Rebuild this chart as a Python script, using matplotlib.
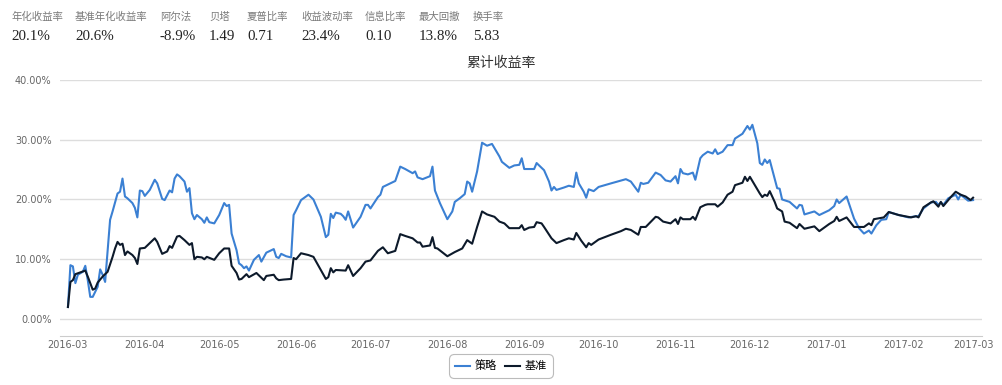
import pandas as pd
import numpy as np
import matplotlib
matplotlib.use('Agg')
import matplotlib.pyplot as plt
import matplotlib.dates as mdates
from matplotlib.ticker import FuncFormatter

# header stats
stat_names = ['年化收益率', '基准年化收益率', '阿尔法', '贝塔', '夏普比率',
              '收益波动率', '信息比率', '最大回撤', '换手率']
stat_values = ['20.1%', '20.6%', '-8.9%', '1.49', '0.71', '23.4%', '0.10', '13.8%', '5.83']

# cumulative return (%), days counted from 2016-03-01
start = pd.Timestamp('2016-03-01')
strat_days = [0, 1, 2, 3, 4, 6, 7, 8, 9, 10, 12, 13, 14, 15, 17, 18, 20, 21, 22, 23,
              24, 26, 27, 28, 29, 30, 31, 33, 35, 36, 38, 39, 41, 42, 43, 44, 45, 47, 48, 49,
              50, 51, 52, 54, 55, 56, 57, 59, 61, 63, 64, 65, 66, 68, 69, 70, 71, 72, 73, 75,
              77, 78, 80, 83, 84, 85, 86, 88, 90, 91, 92, 94, 97, 99, 102, 104, 105, 106, 107, 108,
              110, 111, 112, 113, 115, 118, 120, 121, 122, 125, 126, 127, 129, 132, 134, 136, 139, 140, 141, 143,
              146, 147, 148, 150, 153, 155, 156, 158, 160, 161, 162, 163, 165, 167, 169, 171, 174, 175, 178, 180,
              182, 183, 184, 188, 189, 192, 194, 195, 196, 197, 200, 202, 204, 205, 206, 208, 209, 210, 212, 214,
              219, 225, 227, 230, 231, 232, 234, 237, 239, 241, 243, 245, 246, 247, 248, 250, 252, 253, 255, 256,
              258, 260, 261, 262, 264, 266, 268, 269, 272, 274, 275, 276, 278, 279, 280, 281, 282, 283, 286, 287,
              288, 291, 294, 295, 296, 297, 301, 303, 307, 309, 310, 311, 314, 317, 319, 321, 323, 324, 326, 328,
              330, 331, 335, 339, 342, 343, 345, 348, 350, 351, 352, 353, 355, 358, 359, 360, 363, 365]
strat_vals = [2.0, 9.0, 8.8, 6.0, 7.4, 7.9, 8.9, 6.5, 3.7, 3.7, 5.4, 8.3, 7.4, 6.2, 16.6, 18.0, 21.0, 21.3, 23.5, 20.5,
              20.2, 19.4, 18.6, 17.0, 21.5, 21.4, 20.6, 21.6, 23.3, 22.7, 20.1, 19.9, 21.5, 21.2, 23.5, 24.2, 23.9, 23.0, 21.3, 21.9,
              17.7, 16.7, 17.4, 16.7, 16.1, 17.0, 16.2, 16.0, 17.4, 19.4, 18.9, 19.1, 14.3, 11.5, 9.3, 9.0, 8.5, 8.8, 8.1, 9.9,
              10.7, 9.6, 11.1, 11.7, 10.4, 10.2, 10.9, 10.5, 10.3, 17.4, 18.2, 19.9, 20.8, 20.0, 17.1, 13.7, 14.1, 17.6, 16.9, 17.8,
              17.6, 17.2, 16.6, 18.0, 15.3, 17.1, 19.1, 19.1, 18.5, 20.4, 20.8, 22.1, 22.5, 23.1, 25.5, 25.1, 24.4, 24.7, 23.7, 23.4,
              23.9, 25.5, 21.5, 19.4, 16.7, 18.0, 19.6, 20.2, 20.9, 23.0, 22.7, 21.3, 24.7, 29.5, 29.0, 29.3, 27.2, 26.3, 25.3, 25.7,
              25.8, 26.9, 25.1, 25.1, 26.1, 24.9, 23.0, 21.5, 22.1, 21.6, 22.0, 22.3, 22.1, 24.5, 22.7, 21.3, 20.3, 21.7, 21.4, 22.1,
              22.7, 23.4, 23.0, 21.3, 22.8, 22.6, 22.8, 24.5, 24.1, 23.2, 23.0, 23.9, 22.7, 25.1, 24.4, 24.2, 24.5, 23.3, 26.9, 27.4,
              28.0, 27.7, 28.4, 27.6, 28.0, 29.1, 29.1, 30.2, 31.0, 32.3, 31.7, 32.5, 29.4, 26.1, 25.8, 26.7, 26.1, 26.6, 21.9, 21.8,
              20.0, 19.6, 18.5, 19.1, 19.0, 17.5, 18.0, 17.4, 18.2, 18.9, 20.0, 19.4, 20.5, 16.8, 15.2, 14.3, 14.8, 14.3, 15.7, 16.6,
              16.7, 17.9, 17.4, 17.0, 17.2, 17.2, 18.5, 19.5, 19.6, 19.1, 19.5, 19.1, 20.2, 20.8, 20.0, 20.8, 19.8, 19.9]

bench_days = [0, 1, 2, 3, 5, 7, 8, 10, 11, 12, 14, 16, 18, 19, 20, 21, 22, 23, 24, 26,
              27, 28, 29, 31, 33, 35, 36, 38, 40, 41, 42, 44, 45, 47, 49, 50, 51, 52, 54, 55,
              56, 59, 61, 63, 65, 66, 68, 69, 70, 72, 73, 76, 79, 80, 83, 84, 85, 87, 90, 91,
              92, 94, 97, 99, 102, 104, 105, 106, 107, 108, 112, 113, 115, 118, 120, 122, 125, 127, 129, 132,
              134, 136, 139, 141, 142, 143, 146, 147, 148, 149, 153, 156, 159, 161, 163, 165, 167, 169, 172, 174,
              176, 178, 182, 183, 184, 186, 188, 189, 191, 192, 195, 197, 200, 202, 204, 205, 207, 209, 210, 211,
              214, 219, 223, 225, 227, 230, 231, 233, 237, 238, 240, 243, 245, 246, 247, 248, 251, 252, 253, 255,
              257, 258, 261, 262, 264, 266, 268, 269, 272, 273, 274, 275, 277, 279, 280, 281, 282, 283, 285, 286,
              288, 289, 291, 294, 295, 297, 301, 303, 307, 309, 310, 311, 314, 317, 321, 323, 324, 325, 329, 331,
              335, 340, 342, 343, 345, 348, 349, 351, 352, 353, 356, 358, 360, 362, 364, 365]
bench_vals = [2.0, 6.2, 6.5, 7.5, 7.8, 8.1, 7.1, 4.9, 5.1, 6.1, 7.1, 7.9, 10.4, 11.8, 12.9, 12.4, 12.6, 10.7, 11.3, 10.7,
              10.2, 9.2, 11.8, 11.9, 12.7, 13.5, 12.9, 10.9, 11.3, 12.2, 11.9, 13.8, 13.9, 13.2, 12.4, 12.7, 10.0, 10.4, 10.3, 10.0,
              10.4, 9.9, 11.0, 11.8, 11.8, 8.9, 7.7, 6.6, 6.7, 7.5, 7.0, 7.7, 6.5, 7.2, 7.4, 6.8, 6.5, 6.6, 6.7, 10.2,
              10.0, 11.0, 10.7, 10.4, 8.2, 6.7, 7.0, 8.5, 7.8, 8.2, 8.1, 9.0, 7.2, 8.5, 9.6, 9.8, 11.4, 12.0, 11.0, 11.4,
              14.2, 13.9, 13.5, 12.8, 12.8, 12.1, 12.3, 13.7, 11.9, 11.8, 10.5, 11.2, 11.8, 13.2, 12.6, 15.4, 18.0, 17.5, 17.1, 16.3,
              16.0, 15.2, 15.2, 15.7, 14.9, 15.3, 15.4, 16.2, 16.0, 15.4, 13.5, 12.7, 13.2, 13.5, 13.3, 14.4, 13.1, 12.0, 12.7, 12.4,
              13.3, 14.1, 14.7, 15.1, 14.9, 14.1, 15.4, 15.4, 17.1, 17.0, 16.3, 16.0, 16.7, 15.9, 17.0, 16.7, 16.7, 17.1, 16.6, 18.7,
              19.1, 19.2, 19.2, 18.8, 19.5, 20.8, 21.3, 22.4, 22.8, 23.8, 23.1, 23.8, 22.4, 21.0, 20.4, 20.8, 20.6, 21.4, 19.6, 18.5,
              18.0, 16.3, 16.1, 15.2, 15.9, 15.1, 15.5, 14.7, 15.9, 16.4, 17.1, 16.4, 17.0, 15.4, 15.4, 16.0, 15.7, 16.7, 17.0, 17.9,
              17.4, 17.0, 17.2, 17.0, 18.7, 19.5, 19.7, 18.8, 19.6, 18.9, 20.4, 21.3, 20.8, 20.5, 19.9, 20.3]

strat_dates = start + pd.to_timedelta(strat_days, unit='D')
bench_dates = start + pd.to_timedelta(bench_days, unit='D')

BLUE = '#3b80d3'
DARK = '#0d1a2b'
cjk = ['Noto Sans CJK SC', 'DejaVu Sans']

fig = plt.figure(figsize=(10.02, 3.85), dpi=100)

# header row
stat_x = [11, 75, 160, 209, 247, 301, 365, 419, 473]
for x, name, val in zip(stat_x, stat_names, stat_values):
    fig.text(x / 1002, 1 - 17 / 385, name, family=cjk, fontsize=7.5, color='#7a7a7a',
             ha='left', va='center')
    fig.text(x / 1002, 1 - 36 / 385, val, family=['Liberation Serif'], fontsize=10.8,
             color='#222222', ha='left', va='center')

fig.text(501 / 1002, 1 - 63 / 385, '累计收益率', family=cjk, fontsize=10,
         color='#333333', ha='center', va='center')

ax = fig.add_axes([60 / 1002, 49 / 385, 922 / 1002, 256 / 385])
ax.plot(strat_dates, strat_vals, color=BLUE, lw=1.5, label='策略')
ax.plot(bench_dates, bench_vals, color=DARK, lw=1.5, label='基准')

ax.set_ylim(-2.85, 40)
ax.set_yticks([0, 10, 20, 30, 40])
ax.yaxis.set_major_formatter(FuncFormatter(lambda v, p: '%.2f%%' % v))
ax.set_xlim(start - pd.Timedelta(days=3.2), pd.Timestamp('2017-03-01') + pd.Timedelta(days=3.6))
ax.xaxis.set_major_locator(mdates.MonthLocator())
ax.xaxis.set_major_formatter(mdates.DateFormatter('%Y-%m'))

ax.grid(axis='y', color='#dddddd', lw=1)
ax.set_axisbelow(True)
for s in ['top', 'right', 'left']:
    ax.spines[s].set_visible(False)
ax.spines['bottom'].set_color('#cccccc')
ax.tick_params(axis='both', length=0, labelsize=7, labelcolor='#666666')
ax.tick_params(axis='y', pad=6)
ax.tick_params(axis='x', pad=3)

leg = ax.legend(loc='center', bbox_to_anchor=(501 / 1002, 1 - 366 / 385),
                bbox_transform=fig.transFigure, ncol=2, frameon=True,
                prop={'family': cjk, 'size': 8}, handlelength=1.3,
                handletextpad=0.4, columnspacing=0.8, borderpad=0.35)
leg.get_frame().set_edgecolor('#aaaaaa')
leg.get_frame().set_linewidth(0.8)
leg.get_frame().set_boxstyle('round,pad=0.2,rounding_size=0.4')

fig.savefig('out.png', dpi=100)
